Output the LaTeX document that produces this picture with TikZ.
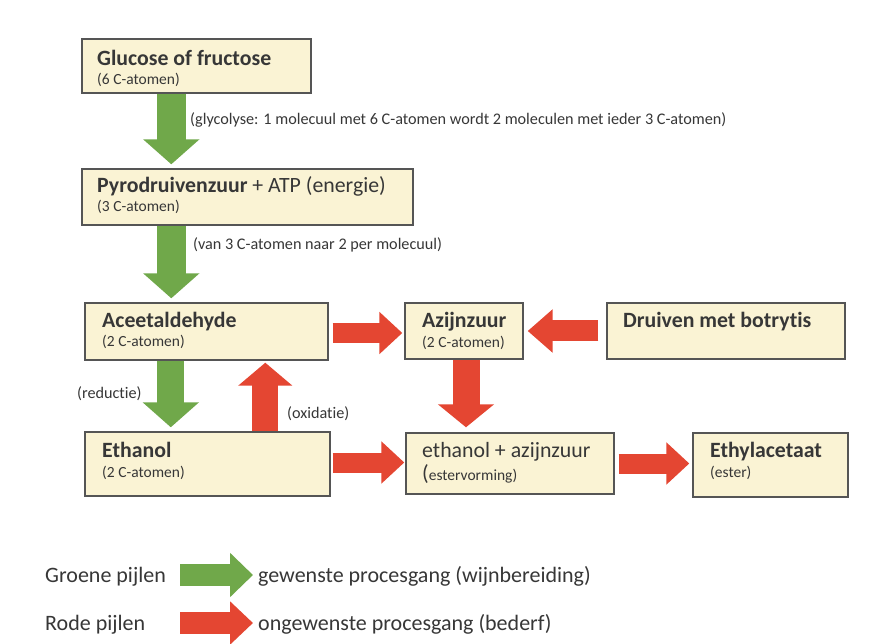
\documentclass[tikz,border=0pt]{standalone}
\usepackage{fontspec}
\setmainfont{Carlito}[Ligatures=NoCommon,Contextuals=NoAlternate]
\usetikzlibrary{arrows.meta,calc}
\definecolor{boxfill}{RGB}{250,243,212}
\definecolor{boxline}{RGB}{85,85,85}
\definecolor{agreen}{RGB}{112,168,74}
\definecolor{ared}{RGB}{228,70,50}
\definecolor{txt}{RGB}{55,55,55}
\tikzset{
  box/.style={draw=boxline, line width=1.4pt, fill=boxfill, inner sep=0pt},
  ttl/.style={anchor=base west, inner sep=0pt, text=txt, font=\fontsize{21.8}{24}\selectfont\bfseries},
  ttlr/.style={anchor=base west, inner sep=0pt, text=txt, font=\fontsize{21.8}{24}\selectfont},
  sub/.style={anchor=base west, inner sep=0pt, text=txt, font=\fontsize{15.5}{18}\selectfont},
  lbl/.style={anchor=base west, inner sep=0pt, text=txt, font=\fontsize{16.2}{19}\selectfont},
  leg/.style={anchor=base west, inner sep=0pt, text=txt, font=\fontsize{22}{25}\selectfont},
  gvert/.style={draw=agreen, line width=29pt, -{Triangle[width=55pt,length=25pt]}},
  rvert/.style={draw=ared, line width=26pt, -{Triangle[width=53pt,length=23pt]}},
  rhor/.style={draw=ared, line width=20pt, -{Triangle[width=41pt,length=23pt]}},
}
\begin{document}
\begin{tikzpicture}[x=1pt,y=-1pt]
\useasboundingbox[fill=white] (0,0) rectangle (892,644);
% boxes
\node[box, minimum width=229pt, minimum height=54pt] (glu) at (196.5,66) {};
\node[box, minimum width=331pt, minimum height=56pt] (pyro) at (247.5,197) {};
\node[box, minimum width=243pt, minimum height=57pt] (ace) at (206.5,331.5) {};
\node[box, minimum width=245pt, minimum height=64pt] (eth) at (207.5,464) {};
\node[box, minimum width=118pt, minimum height=56pt] (azi) at (464,331) {};
\node[box, minimum width=238pt, minimum height=56pt] (dru) at (726,331) {};
\node[box, minimum width=208pt, minimum height=61pt] (est) at (510,463.5) {};
\node[box, minimum width=155pt, minimum height=64pt] (ethyl) at (770.5,465) {};
% texts
\node[ttl] (gluT) at (97,66) {Glucose of fructose};
\node[sub] (gluS) at (97,85) {(6 C-atomen)};
\node[ttl] (pyroT) at (97,193) {Pyrodruivenzuur \normalfont+ ATP (energie)};
\node[sub] (pyroS) at (97,212) {(3 C-atomen)};
\node[ttl] (aceT) at (102,328) {Aceetaldehyde};
\node[sub] (aceS) at (102,347) {(2 C-atomen)};
\node[ttl] (ethT) at (102,457) {Ethanol};
\node[sub] (ethS) at (102,477) {(2 C-atomen)};
\node[ttl] (aziT) at (422,328) {Azijnzuur};
\node[sub] (aziS) at (422,348) {(2 C-atomen)};
\node[ttl] (druT) at (623,328) {Druiven met botrytis};
\node[ttlr] (estT) at (422,457) {ethanol + azijnzuur};
\node[sub] (estS) at (422,480) {{\fontsize{21.8}{24}\selectfont(}estervorming)};
\node[ttl] (ethylT) at (710,457) {Ethylacetaat};
\node[sub] (ethylS) at (710,477) {(ester)};
% labels
\node[lbl] (glyc) at (190,125) {(glycolyse: 1 molecuul met 6 C-atomen wordt 2 moleculen met ieder 3 C-atomen)};
\node[lbl] (van) at (193,250) {(van 3 C-atomen naar 2 per molecuul)};
\node[lbl] (red) at (77,399) {(reductie)};
\node[lbl] (oxi) at (287,418) {(oxidatie)};
% arrows
\draw[gvert] ($(glu.south west)+(90,0)$) -- ($(pyro.north west)+(90,-4)$);
\draw[gvert] ($(pyro.south west)+(90,0)$) -- ($(ace.north west)+(87,-4)$);
\draw[gvert, line width=27pt] ($(ace.south west)+(86.5,0)$) -- ($(eth.north west)+(86.5,-4)$);
\draw[rvert] ($(eth.north west)+(181,0)$) -- ($(ace.south west)+(181,2)$);
\draw[rhor] ($(ace.east)+(4,1.5)$) -- ($(azi.west)+(-2,2)$);
\draw[rhor] ($(eth.east)+(2,-1.5)$) -- ($(est.west)+(-1,-1)$);
\draw[rhor, line width=21pt, -{Triangle[width=42pt,length=25pt]}] ($(dru.west)+(-8,0)$) -- ($(azi.east)+(4,0)$);
\draw[rvert, line width=27pt, -{Triangle[width=55pt,length=23pt]}] ($(azi.south)+(2,0)$) -- ($(est.north)+(-44,-5)$);
\draw[rhor] ($(est.east)+(4,0)$) -- ($(ethyl.west)+(-3,-1.5)$);
% legend
\node[leg] (lgG) at (45,582) {Groene pijlen};
\node[leg] (lgGt) at (258,582) {gewenste procesgang (wijnbereiding)};
\node[leg] (lgR) at (45,630) {Rode pijlen};
\node[leg] (lgRt) at (258,630) {ongewenste procesgang (bederf)};
\coordinate (lgGs) at (180,575);
\coordinate (lgGe) at (253,575);
\coordinate (lgRs) at (180,623);
\coordinate (lgRe) at (253,623);
\draw[draw=agreen, line width=22pt, -{Triangle[width=43pt,length=23pt]}] (lgGs) -- (lgGe);
\draw[draw=ared, line width=22pt, -{Triangle[width=42pt,length=23pt]}] (lgRs) -- (lgRe);
\end{tikzpicture}
\end{document}
